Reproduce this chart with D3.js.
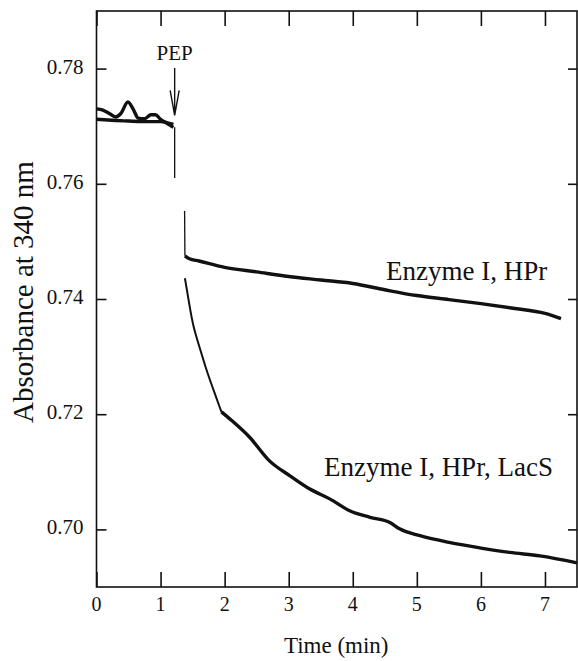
<!DOCTYPE html>
<html>
<head>
<meta charset="utf-8">
<script src="https://cdn.jsdelivr.net/npm/d3@7"></script>
<style>
  body { margin: 0; background: #fff; }
</style>
</head>
<body>
<div id="chart"></div>
<script>
// tick labels
var xTicks = [0, 1, 2, 3, 4, 5, 6, 7];
var yTicks = [0.70, 0.72, 0.74, 0.76, 0.78];

// baseline before PEP, run 1 (later Enzyme I, HPr)  [time min, absorbance]
var hprBefore = [[0, 0.7730], [0.1, 0.7728], [0.2, 0.7722], [0.3, 0.7716], [0.38, 0.7722], [0.49, 0.7742],
  [0.58, 0.7728], [0.65, 0.7714], [0.75, 0.7713], [0.85, 0.7720], [0.92, 0.7720], [1.0, 0.7712],
  [1.1, 0.7705], [1.2, 0.7698]];
// baseline before PEP, run 2 (later Enzyme I, HPr, LacS)
var lacsBefore = [[0, 0.7712], [0.3, 0.7710], [0.5, 0.7709], [0.7, 0.7708], [1.0, 0.7708], [1.2, 0.7703]];

// mixing spikes
var pepSpike = [[1.22, 0.7698], [1.22, 0.7610]];
var hprSpike = [[1.375, 0.7553], [1.38, 0.7475]];

// after PEP
var hprAfter = [[1.38, 0.7475], [1.45, 0.7470], [1.6, 0.7466], [2.0, 0.7455], [2.5, 0.7447], [3.0, 0.7439],
  [3.5, 0.7433], [4.0, 0.7427], [4.5, 0.7416], [5.0, 0.7406], [5.5, 0.7399], [6.0, 0.7392],
  [6.5, 0.7384], [7.0, 0.7375], [7.25, 0.7366]];
var lacsFast = [[1.38, 0.7436], [1.45, 0.7390], [1.51, 0.7351], [1.61, 0.7316], [1.7, 0.7282],
  [1.8, 0.7250], [1.95, 0.7204]];
var lacsSlow = [[1.95, 0.7204], [2.11, 0.7189], [2.39, 0.7160], [2.70, 0.7119], [3.02, 0.7093],
  [3.33, 0.7070], [3.64, 0.7053], [3.96, 0.7032], [4.27, 0.7021], [4.58, 0.7012], [4.73, 0.7001],
  [5.05, 0.6989], [5.52, 0.6977], [5.98, 0.6968], [6.45, 0.6960], [6.92, 0.6954], [7.5, 0.6942]];

// labels in data units
var notes = [
  { text: "PEP", t: 1.22, v: 0.7815, anchor: "middle", size: 21 },
  { text: "Enzyme I, HPr", t: 4.52, v: 0.7433, anchor: "start", size: 27 },
  { text: "Enzyme I, HPr, LacS", t: 3.55, v: 0.7092, anchor: "start", size: 27 }
];

(function() {
  var margin = { top: 11, left: 96.5, right: 1, bottom: 74 },
    width = 578 - margin.left - margin.right,
    height = 661 - margin.top - margin.bottom;

  var serif = "'Liberation Serif'";

  var root = d3.select("#chart")
    .append("svg")
    .attr("width", width + margin.left + margin.right)
    .attr("height", height + margin.top + margin.bottom);

  var svg = root.append("g")
    .attr("transform", "translate(" + margin.left + "," + margin.top + ")");

  // scales already include the margins so text can sit on the root svg
  var x = d3.scaleLinear().domain([0, 7.5]).range([margin.left, margin.left + width]);
  var y = d3.scaleLinear().domain([0.69, 0.79]).range([margin.top + height, margin.top]);

  var line = d3.line()
    .curve(d3.curveMonotoneX)
    .x(function(d) { return x(d[0]); })
    .y(function(d) { return y(d[1]); });

  // ticks pointing inward on all four sides, labels added below
  var bottom = root.append("g")
    .attr("transform", "translate(0," + (margin.top + height) + ")")
    .call(d3.axisBottom(x).tickValues(xTicks).tickSize(-15).tickSizeOuter(0).tickFormat(""));
  var topAxis = root.append("g")
    .attr("transform", "translate(0," + margin.top + ")")
    .call(d3.axisTop(x).tickValues(xTicks).tickSize(-15).tickSizeOuter(0).tickFormat(""));
  var left = root.append("g")
    .attr("transform", "translate(" + margin.left + ",0)")
    .call(d3.axisLeft(y).tickValues(yTicks).tickSize(-10).tickSizeOuter(0).tickFormat(""));
  var right = root.append("g")
    .attr("transform", "translate(" + (margin.left + width) + ",0)")
    .call(d3.axisRight(y).tickValues(yTicks).tickSize(-9).tickSizeOuter(0).tickFormat(""));

  [bottom, topAxis, left, right].forEach(function(g) {
    g.select(".domain").remove();
    g.selectAll("text").remove();
    g.selectAll("line").attr("stroke", "#111").attr("stroke-width", 1.6);
  });

  root.selectAll(".xlab")
    .data(xTicks)
    .enter().append("text")
    .attr("class", "xlab")
    .style("font-family", serif)
    .attr("font-size", 20)
    .attr("fill", "#111")
    .attr("text-anchor", "middle")
    .attr("x", function(d) { return x(d); })
    .attr("y", margin.top + height + 24)
    .text(d3.format("d"));

  root.selectAll(".ylab")
    .data(yTicks)
    .enter().append("text")
    .attr("class", "ylab")
    .style("font-family", serif)
    .attr("font-size", 21)
    .attr("fill", "#111")
    .attr("text-anchor", "end")
    .attr("x", margin.left - 13)
    .attr("y", function(d) { return y(d) + 5; })
    .text(d3.format(".2f"));

  root.append("rect")
    .attr("x", margin.left)
    .attr("y", margin.top)
    .attr("width", width)
    .attr("height", height)
    .attr("fill", "none")
    .attr("stroke", "#111")
    .attr("stroke-width", 1.6);

  // traces
  var thick = [hprBefore, lacsBefore, hprAfter, lacsSlow];
  root.selectAll(".trace")
    .data(thick)
    .enter().append("path")
    .attr("class", "trace")
    .attr("d", line)
    .attr("fill", "none")
    .attr("stroke", "#111")
    .attr("stroke-width", 3.4)
    .attr("stroke-linejoin", "round");

  root.selectAll(".thin")
    .data([pepSpike, hprSpike, lacsFast])
    .enter().append("path")
    .attr("class", "thin")
    .attr("d", d3.line().x(function(d) { return x(d[0]); }).y(function(d) { return y(d[1]); }).curve(d3.curveBasis))
    .attr("fill", "none")
    .attr("stroke", "#111")
    .attr("stroke-width", function(d, i) { return i == 2 ? 2 : 1.3; });

  // PEP arrow
  var ax = x(notes[0].t);
  root.append("path")
    .attr("d", "M" + ax + "," + (y(0.7815) + 8) + "V" + (y(0.7719)) +
      "M" + (ax - 4.5) + "," + (y(0.7719) - 25) + "L" + ax + "," + y(0.7719) + "L" + (ax + 4.5) + "," + (y(0.7719) - 25))
    .attr("fill", "none")
    .attr("stroke", "#111")
    .attr("stroke-width", 1.4);

  root.selectAll(".note")
    .data(notes)
    .enter().append("text")
    .attr("class", "note")
    .style("font-family", serif)
    .attr("font-size", function(d) { return d.size; })
    .attr("fill", "#111")
    .attr("x", function(d) { return x(d.t); })
    .attr("y", function(d) { return y(d.v); })
    .attr("text-anchor", function(d) { return d.anchor; })
    .text(function(d) { return d.text; });

  // axis titles
  root.append("text")
    .style("font-family", serif)
    .attr("font-size", 23)
    .attr("fill", "#111")
    .attr("x", margin.left + width / 2 - 0.5)
    .attr("y", margin.top + height + 66)
    .attr("text-anchor", "middle")
    .text("Time (min)");

  root.append("text")
    .style("font-family", serif)
    .attr("font-size", 29)
    .attr("fill", "#111")
    .attr("transform", "translate(33,292) rotate(-90)")
    .attr("text-anchor", "middle")
    .text("Absorbance at 340 nm");
})();
</script>
</body>
</html>
